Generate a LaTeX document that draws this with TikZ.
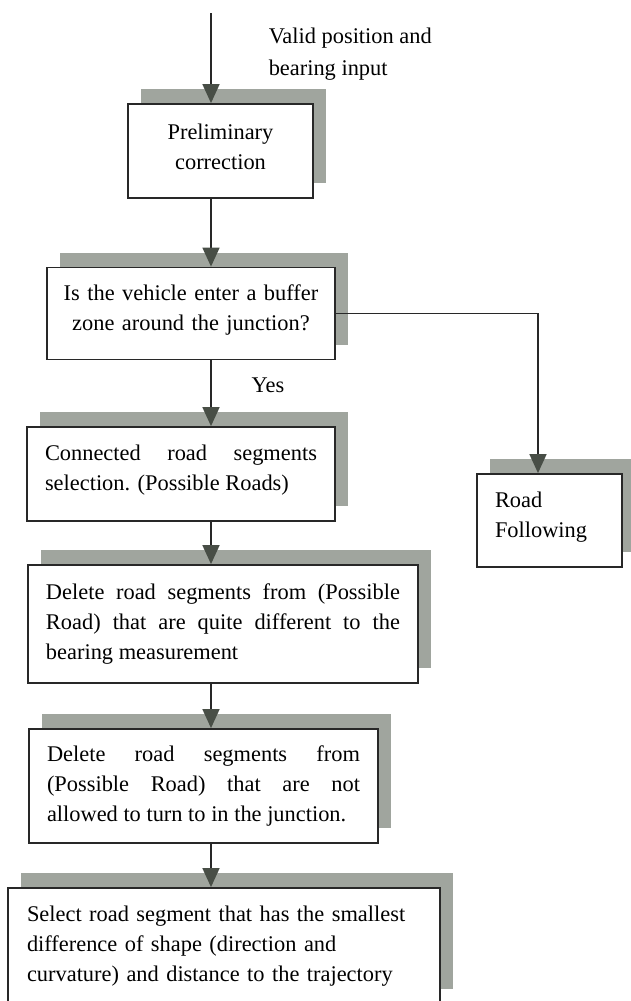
\documentclass[tikz,border=0pt]{standalone}
\usepackage{fontspec}
\setmainfont{Liberation Serif}
\usetikzlibrary{arrows.meta, shadows}
\definecolor{shadowgray}{RGB}{160,165,158}
\definecolor{tipgray}{RGB}{72,78,70}
\definecolor{linegray}{RGB}{40,40,40}
\newcommand\blockfont{\fontsize{11.2pt}{15pt}\selectfont
  \hyphenpenalty=10000\relax\tolerance=10000\relax\hbadness=10000\relax}

\tikzset{
  block/.style={font=\blockfont, draw=linegray, line width=0.9pt, fill=white, rectangle,
    inner xsep=9pt, minimum height=#1,
    drop shadow={shadow xshift=6.5pt, shadow yshift=7.5pt, fill=shadowgray, opacity=1}},
  block/.default=47pt,
  lift/.style={execute at end node={\par\kern#1}},
  note/.style={font=\fontsize{11.2pt}{15pt}\selectfont, inner sep=0pt}
}

\begin{document}
\begin{tikzpicture}[x=0.5pt, y=-0.5pt, >={Triangle[length=9.5pt,width=8.5pt,color=tipgray]},
    line width=0.75pt]
  \useasboundingbox (0,0) rectangle (631,1001);
  \coordinate (in) at (211,13);
  \coordinate (spine) at (211,0);

  \node[note, anchor=west, align=left, font=\fontsize{11.2pt}{16pt}\selectfont] (input) at (268,54)
    {Valid position and\\bearing input};
  \node[block, text width=74.5pt, align=center, lift=4pt] (prelim) at (220.5,151) {Preliminary\\correction};
  \node[block=46pt, text width=136pt, inner xsep=4pt, align=center, lift=4pt] (buffer) at (191,313.5)
    {Is the vehicle enter a buffer\\zone around the junction?};
  \node[note] (yes) at (268,385) {Yes};
  \node[block, text width=136pt, align=justify, lift=4pt] (connected) at (181,474)
    {Connected road segments\linebreak selection. (Possible Roads)};
  \node[block=46.5pt, text width=54.5pt, align=left, lift=3pt] (following) at (549.5,520.5) {Road\\Following};
  \node[block=59pt, text width=177pt, align=justify] (bearing) at (223,624)
    {Delete road segments from (Possible\linebreak Road) that are quite different to the\linebreak bearing measurement};
  \node[block=57pt, text width=156.5pt, align=justify] (turn) at (203.5,786)
    {Delete road segments from\linebreak (Possible Road) that are not\linebreak allowed to turn to in the junction.};
  \node[block=58pt, text width=197pt, inner xsep=9.5pt, align=left] (select) at (224,946)
    {Select road segment that has the smallest\\difference of shape (direction and\\curvature) and distance to the trajectory};

  % main column
  \draw[draw=linegray, ->] (in) -- (prelim.north -| spine);
  \draw[draw=linegray, ->] (prelim.south -| spine) -- (buffer.north -| spine);
  \draw[draw=linegray, ->] (buffer.south -| spine) -- (connected.north -| spine);
  \draw[draw=linegray, ->] (connected.south -| spine) -- (bearing.north -| spine);
  \draw[draw=linegray, ->] (bearing.south -| spine) -- (turn.north -| spine);
  \draw[draw=linegray, ->] (turn.south -| spine) -- (select.north -| spine);
  % side branch
  \draw[draw=linegray, ->] (buffer.east) -| ([xshift=-5.75pt]following.north);
\end{tikzpicture}
\end{document}
